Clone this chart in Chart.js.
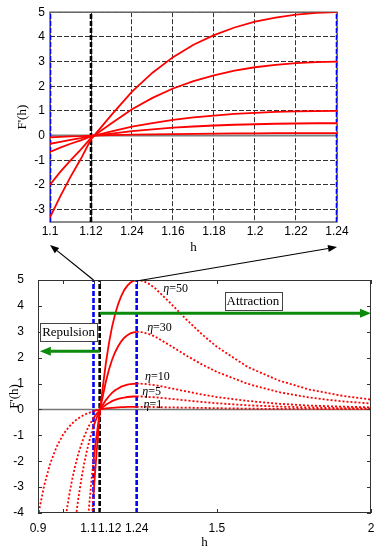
<!DOCTYPE html>
<html>
<head>
<meta charset="utf-8">
<script src="https://cdn.jsdelivr.net/npm/chart.js@4.4.1/dist/chart.umd.min.js"></script>
<style>
html, body { margin: 0; padding: 0; background: #fff; }
#wrap { position: relative; width: 383px; height: 550px; overflow: hidden; }
#top { position: absolute; left: 0; top: 0; }
#bottom { position: absolute; left: 0; top: 235px; }
</style>
</head>
<body>
<div id="wrap">
  <canvas id="top" width="383" height="260"></canvas>
  <canvas id="bottom" width="383" height="315"></canvas>
</div>
<script>
'use strict';

// 曲線の値 (η = 50, 30, 10, 5, 1)
const etaNames = ['50', '30', '10', '5', '1'];

// 1.1〜1.24 の実線部分
const hMid = [1.10, 1.105, 1.11, 1.115, 1.12, 1.13, 1.14, 1.15, 1.16, 1.17, 1.18, 1.19, 1.20, 1.21, 1.22, 1.23, 1.24];
const mid50 = [-3.31, -2.46, -1.67, -0.95, -0.15, 0.84, 1.78, 2.55, 3.18, 3.68, 4.07, 4.38, 4.62, 4.78, 4.90, 4.97, 5.00];
const mid30 = [-1.99, -1.47, -1.00, -0.57, -0.09, 0.50, 1.07, 1.53, 1.91, 2.21, 2.44, 2.63, 2.77, 2.87, 2.94, 2.98, 3.00];
const mid10 = [-0.66, -0.49, -0.33, -0.19, -0.03, 0.17, 0.36, 0.51, 0.64, 0.74, 0.81, 0.88, 0.92, 0.96, 0.98, 0.99, 1.00];
const mid5  = [-0.33, -0.25, -0.17, -0.10, -0.015, 0.08, 0.18, 0.25, 0.32, 0.37, 0.41, 0.44, 0.46, 0.48, 0.49, 0.50, 0.50];
const mid1  = [-0.07, -0.05, -0.03, -0.02, 0.00, 0.02, 0.04, 0.05, 0.06, 0.07, 0.08, 0.09, 0.09, 0.10, 0.10, 0.10, 0.10];

// 1.24 より右の点線部分
const hRight = [1.24, 1.26, 1.28, 1.30, 1.35, 1.40, 1.45, 1.50, 1.60, 1.70, 1.80, 1.90, 2.00];
const right50 = [5.00, 4.97, 4.85, 4.68, 4.10, 3.49, 2.92, 2.42, 1.64, 1.12, 0.77, 0.54, 0.38];
const right30 = [3.00, 2.98, 2.91, 2.81, 2.46, 2.09, 1.75, 1.45, 0.99, 0.67, 0.46, 0.32, 0.23];
const right10 = [1.00, 0.99, 0.97, 0.94, 0.82, 0.70, 0.58, 0.48, 0.33, 0.22, 0.15, 0.11, 0.08];
const right5  = [0.50, 0.50, 0.48, 0.47, 0.41, 0.35, 0.29, 0.24, 0.16, 0.11, 0.08, 0.05, 0.04];
const right1  = [0.10, 0.10, 0.10, 0.09, 0.08, 0.07, 0.06, 0.05, 0.03, 0.02, 0.02, 0.01, 0.01];

// 1.1 より左の点線部分
const hLeft = [0.91, 0.92, 0.94, 0.96, 0.98, 1.00, 1.01, 1.02, 1.03, 1.04, 1.05, 1.06, 1.07, 1.08, 1.085, 1.09, 1.095, 1.10];
const left50 = [null, null, null, null, null, null, null, null, null, null, null, null, null, null, -6.39, -5.28, -4.25, -3.31];
const left30 = [null, null, null, null, null, null, null, null, null, null, null, null, -6.22, -4.56, -3.83, -3.17, -2.55, -1.99];
const left10 = [null, null, null, null, null, null, null, null, -5.49, -4.42, -3.50, -2.73, -2.07, -1.52, -1.28, -1.06, -0.85, -0.66];
const left5  = [null, null, null, null, null, -5.00, -4.13, -3.39, -2.75, -2.21, -1.75, -1.37, -1.04, -0.76, -0.64, -0.53, -0.43, -0.33];
const left1  = [-4.88, -4.12, -2.93, -2.07, -1.45, -1.00, -0.83, -0.68, -0.55, -0.44, -0.35, -0.27, -0.21, -0.15, -0.13, -0.11, -0.09, -0.07];

// 目盛り
const topXTicks = [1.10, 1.12, 1.14, 1.16, 1.18, 1.20, 1.22, 1.24];
const topXLabels = ['1.1', '1.12', '1.24', '1.16', '1.18', '1.2', '1.22', '1.24'];
const topYTicks = [-3, -2, -1, 0, 1, 2, 3, 4, 5];
const botXTicks = [0.92, 1.00, 1.10, 1.12, 1.24, 1.50, 2.00];
const botXLabels = ['0.9', '', '1.1   ', '      1.12', '1.24', '1.5', '2'];
const botYTicks = [-4, -3, -2, -1, 0, 1, 2, 3, 4, 5];

// 縦線の位置
const blueLines = [1.10, 1.24];
const blackLine = 1.12;

// 注記 (η ラベル, 矢印, 枠付きテキスト)
const etaLabelH = [1.326, 1.274, 1.267, 1.258, 1.262];
const etaLabelY = [4.67, 3.15, 1.27, 0.69, 0.19];
const attractArrow = [1.121, 2.0, 3.72];
const repulseArrow = [1.121, 0.926, 2.25];
const boxTexts = ['Attraction', 'Repulsion'];
const boxH = [1.617, 1.019];
const boxY = [4.19, 2.99];

Chart.defaults.font.family = "'Liberation Sans', Arial, sans-serif";
Chart.defaults.font.size = 12;
Chart.defaults.color = '#000';

const RED = '#ff0000';

function pts(hs, vs) {
    return hs.map((h, i) => ({ x: h, y: vs[i] }));
}

function lineSet(data, color, width, dash) {
    return {
        data: data,
        showLine: true,
        borderColor: color,
        borderWidth: width,
        borderDash: dash || [],
        pointRadius: 0,
        pointHoverRadius: 0,
        fill: false,
        tension: 0,
        spanGaps: false
    };
}

function vline(h, y0, y1, color) {
    return lineSet([{ x: h, y: y0 }, { x: h, y: y1 }], color, 2.6, [5, 2]);
}

function arrow(ctx, x1, y1, x2, y2, color, width, headLen, headW) {
    const ang = Math.atan2(y2 - y1, x2 - x1);
    const bx = x2 - headLen * Math.cos(ang);
    const by = y2 - headLen * Math.sin(ang);
    ctx.strokeStyle = color;
    ctx.fillStyle = color;
    ctx.lineWidth = width;
    ctx.beginPath();
    ctx.moveTo(x1, y1);
    ctx.lineTo(bx, by);
    ctx.stroke();
    ctx.beginPath();
    ctx.moveTo(x2, y2);
    ctx.lineTo(bx + headW / 2 * Math.sin(ang), by - headW / 2 * Math.cos(ang));
    ctx.lineTo(bx - headW / 2 * Math.sin(ang), by + headW / 2 * Math.cos(ang));
    ctx.closePath();
    ctx.fill();
}

// ---------- 上のグラフ (拡大図) ----------
const TOP_YMIN = -3.5, TOP_YMAX = 5;
const midSets = [mid50, mid30, mid10, mid5, mid1];

let topDatasets = midSets.map(v => lineSet(pts(hMid, v), RED, 1.8));
topDatasets.push(vline(blackLine, TOP_YMIN, TOP_YMAX, '#000'));
blueLines.forEach(h => topDatasets.push(vline(h, TOP_YMIN, TOP_YMAX, '#0000ff')));
topDatasets.push(lineSet([{ x: 1.10, y: 0 }, { x: 1.24, y: 0 }], '#808080', 2));

const topBox = {
    id: 'topBox',
    beforeDatasetsDraw(chart) {
        const { ctx, chartArea: a } = chart;
        ctx.save();
        ctx.strokeStyle = '#666';
        ctx.lineWidth = 1.5;
        ctx.strokeRect(a.left, a.top, a.right - a.left, a.bottom - a.top);
        ctx.restore();
    }
};

const topChart = new Chart(document.getElementById('top'), {
    type: 'scatter',
    data: { datasets: topDatasets },
    options: {
        responsive: false,
        animation: false,
        layout: { padding: { top: 10, right: 46, left: 0, bottom: 0 } },
        plugins: { legend: { display: false }, tooltip: { enabled: false } },
        scales: {
            x: {
                type: 'linear', min: 1.10, max: 1.24,
                afterBuildTicks: s => { s.ticks = topXTicks.map(v => ({ value: v })); },
                afterFit: s => { s.height = 38; },
                ticks: {
                    autoSkip: false, maxRotation: 0, minRotation: 0, padding: 2,
                    callback: (v, i) => topXLabels[i]
                },
                grid: { color: '#333', lineWidth: 1, drawTicks: false },
                border: { display: false, dash: [5, 2] },
                title: {
                    display: true, text: 'h', padding: { top: 0, bottom: 5 },
                    font: { family: "'Liberation Serif', 'Times New Roman', serif", size: 13 }
                }
            },
            y: {
                type: 'linear', min: TOP_YMIN, max: TOP_YMAX,
                afterBuildTicks: s => { s.ticks = topYTicks.map(v => ({ value: v })); },
                afterFit: s => { s.width = 50; },
                ticks: { padding: 5 },
                grid: { color: '#333', lineWidth: 1, drawTicks: false },
                border: { display: false, dash: [5, 2] },
                title: {
                    display: true, text: "F'(h)", padding: { top: 15, bottom: 0 },
                    font: { family: "'Liberation Serif', 'Times New Roman', serif", size: 13 }
                }
            }
        }
    },
    plugins: [topBox]
});

// ---------- 下のグラフ (全体図) ----------
const BOT_YMIN = -4, BOT_YMAX = 5;
const leftSets = [left50, left30, left10, left5, left1];
const rightSets = [right50, right30, right10, right5, right1];

let botDatasets = [];
midSets.forEach(v => botDatasets.push(lineSet(pts(hMid, v), RED, 1.8)));
rightSets.forEach(v => botDatasets.push(lineSet(pts(hRight, v), RED, 1.8, [2, 2])));
leftSets.forEach(v => botDatasets.push(lineSet(pts(hLeft, v), RED, 1.8, [2, 2])));
botDatasets.push(vline(blackLine, BOT_YMIN, BOT_YMAX, '#000'));
blueLines.forEach(h => botDatasets.push(vline(h, BOT_YMIN, BOT_YMAX, '#0000ff')));
botDatasets.push(lineSet([{ x: 0.92, y: 0 }, { x: 2.0, y: 0 }], '#777', 1.5));

const SERIF = "'Liberation Serif', 'Times New Roman', serif";

const bottomDecor = {
    id: 'bottomDecor',
    afterDraw(chart) {
        const { ctx, chartArea: a, scales: { x, y } } = chart;
        ctx.save();

        // 枠と内向きの目盛り
        ctx.strokeStyle = '#333';
        ctx.lineWidth = 1;
        ctx.strokeRect(a.left + 0.5, a.top + 0.5, a.right - a.left - 1, a.bottom - a.top - 1);
        ctx.beginPath();
        botXTicks.forEach(v => {
            const px = Math.round(x.getPixelForValue(v)) + 0.5;
            ctx.moveTo(px, a.bottom); ctx.lineTo(px, a.bottom - 4);
            ctx.moveTo(px, a.top); ctx.lineTo(px, a.top + 4);
        });
        botYTicks.forEach(v => {
            const py = Math.round(y.getPixelForValue(v)) + 0.5;
            ctx.moveTo(a.left, py); ctx.lineTo(a.left + 4, py);
            ctx.moveTo(a.right, py); ctx.lineTo(a.right - 4, py);
        });
        ctx.stroke();

        // 緑の矢印
        const green = '#0b8a0b';
        arrow(ctx, x.getPixelForValue(attractArrow[0]), y.getPixelForValue(attractArrow[2]),
              x.getPixelForValue(attractArrow[1]), y.getPixelForValue(attractArrow[2]), green, 3, 11, 9);
        arrow(ctx, x.getPixelForValue(repulseArrow[0]), y.getPixelForValue(repulseArrow[2]),
              x.getPixelForValue(repulseArrow[1]), y.getPixelForValue(repulseArrow[2]), green, 3, 11, 9);

        // 枠付きテキスト
        ctx.font = '13px ' + SERIF;
        ctx.textAlign = 'center';
        ctx.textBaseline = 'middle';
        boxTexts.forEach((t, i) => {
            const cx = x.getPixelForValue(boxH[i]);
            const cy = y.getPixelForValue(boxY[i]);
            const w = ctx.measureText(t).width + 4;
            const h = 18;
            ctx.fillStyle = '#fff';
            ctx.fillRect(cx - w / 2, cy - h / 2, w, h);
            ctx.strokeStyle = '#444';
            ctx.lineWidth = 1;
            ctx.strokeRect(Math.round(cx - w / 2) + 0.5, Math.round(cy - h / 2) + 0.5, Math.round(w), h);
            ctx.fillStyle = '#000';
            ctx.fillText(t, cx, cy + 1);
        });

        // η ラベル
        ctx.textAlign = 'left';
        etaNames.forEach((n, i) => {
            const px = x.getPixelForValue(etaLabelH[i]);
            const py = y.getPixelForValue(etaLabelY[i]);
            ctx.fillStyle = '#000';
            ctx.font = 'italic 12px ' + SERIF;
            ctx.fillText('\u03b7', px, py);
            const w = ctx.measureText('\u03b7').width;
            ctx.font = '12px ' + SERIF;
            ctx.fillText('=' + n, px + w, py);
        });

        // 上の拡大図へ向かう黒い矢印
        const canvasTop = chart.canvas.offsetTop;
        const tx = topChart.scales.x;
        arrow(ctx, x.getPixelForValue(1.10), a.top, tx.getPixelForValue(1.10), 245 - canvasTop, '#000', 1.2, 9, 7);
        arrow(ctx, x.getPixelForValue(1.24), a.top + 1, tx.getPixelForValue(1.24), 247 - canvasTop, '#000', 1.2, 9, 7);

        ctx.restore();
    }
};

new Chart(document.getElementById('bottom'), {
    type: 'scatter',
    data: { datasets: botDatasets },
    options: {
        responsive: false,
        animation: false,
        layout: { padding: { top: 45, right: 12, left: 0, bottom: 0 } },
        plugins: { legend: { display: false }, tooltip: { enabled: false } },
        scales: {
            x: {
                type: 'linear', min: 0.92, max: 2.0,
                afterBuildTicks: s => { s.ticks = botXTicks.map(v => ({ value: v })); },
                afterFit: s => { s.height = 37; },
                ticks: {
                    autoSkip: false, maxRotation: 0, minRotation: 0, padding: 0,
                    callback: (v, i) => botXLabels[i]
                },
                grid: { display: false },
                border: { display: false },
                title: {
                    display: true, text: 'h', padding: { top: 0, bottom: 0 },
                    font: { family: SERIF, size: 13 }
                }
            },
            y: {
                type: 'linear', min: BOT_YMIN, max: BOT_YMAX,
                afterBuildTicks: s => { s.ticks = botYTicks.map(v => ({ value: v })); },
                afterFit: s => { s.width = 38; },
                ticks: { padding: 6 },
                grid: { display: false },
                border: { display: false },
                title: {
                    display: true, text: "F'(h)", padding: { top: 7, bottom: 0 },
                    font: { family: SERIF, size: 13 }
                }
            }
        }
    },
    plugins: [bottomDecor]
});
</script>
</body>
</html>
